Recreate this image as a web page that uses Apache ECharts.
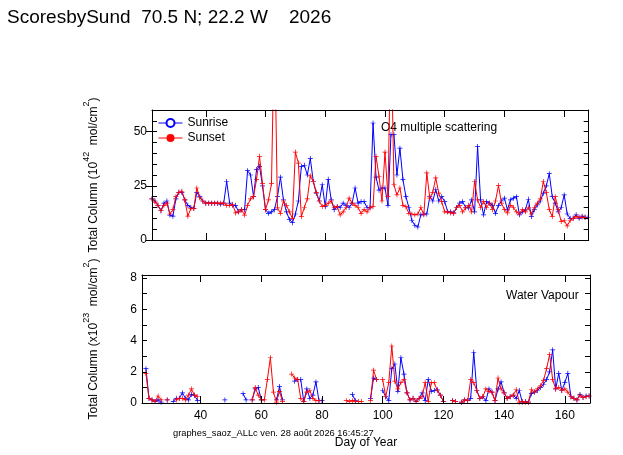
<!DOCTYPE html>
<html><head><meta charset="utf-8">
<script src="https://cdn.jsdelivr.net/npm/echarts@6/dist/echarts.min.js"></script>
<style>html,body{margin:0;padding:0;background:#fff}#c{width:623px;height:455px}</style>
</head><body><div id="c"></div>
<script>
const days = [21,22,23,24,25,26,27,28,29,30,31,32,33,34,35,36,37,38,39,40,
41,42,43,44,45,46,47,48,49,50,51,52,53,54,55,56,57,58,59,60,
61,62,63,64,65,66,67,68,69,70,71,72,73,74,75,76,77,78,79,80,
81,82,83,84,85,86,87,88,89,90,91,92,93,94,95,96,97,98,99,100,
101,102,103,104,105,106,107,108,109,110,111,112,113,114,115,116,117,118,119,120,
121,122,123,124,125,126,127,128,129,130,131,132,133,134,135,136,137,138,139,140,
141,142,143,144,145,146,147,148,149,150,151,152,153,154,155,156,157,158,159,160,
161,162,163,164,165,166,167,168];

// O4 multiple scattering (10^42 mol/cm2)
const o4Sunrise = [null,19,18,16,13.5,17,18,11.5,11,19,22,22,18.5,16,15,14.5,22,20,18,17,
17,17,17,17,16.5,17,27,17,16,16,13,14,14,32,30,20,32.5,34,25,14,
12.3,13,14,20,29,18.5,13,9.5,8,12,18,34,34.5,30,37.6,27,21.6,18,25.5,15.4,
28,18.5,14,15.4,15,17,16,15,17,24,17,17.7,17.7,15,14.8,54,29,23,24,24,
16,48.6,48.6,30,42.4,28,20,15,9,6.8,6,11.6,12,12,20,18,23.2,18,20,17.7,
13,13,12.5,15,17,17.7,15,14.8,18.5,13,43.2,18.5,11.6,17.7,17,16,12.3,16,18,19.3,
13.9,18.5,19.3,20,11.6,13,13.9,18.8,10.8,14,16.2,18,21.6,25,30.6,20,17,13,15,20.8,
12,10,10,11.6,10,11,10.5,10.5];
const o4Sunset = [null,19,17.5,16,13.5,16,17,12,14,20,22,22.5,18.5,11,14.5,14.5,24,19.5,18,17,
17,17,17,17,17,17,16,16,16.5,12.5,13,14,11.5,16,19,20,28,38.6,26,14,
18.5,26,100,14.8,12.3,18,16,13,10,40.6,35.5,10.8,15,19,29.6,27,22,18,15.5,16,
17,18,15,15.4,11.6,13,15,19.3,17,16,15,12.3,14,13,15,15.4,38.6,29.3,18,40.6,
20,100,25.5,20.8,24,16,15.4,12.3,12,11.6,12,15,11.6,31,19.3,22,28.7,21.6,17.7,13,
13,12.5,12.3,15,16,13,14.8,16,13,27,18.5,15,17.7,15,17,14,18,25.2,17,14,
12.5,16,15,13,12,14,13,15,12,15,17,19,27,22,14,10.8,20,14,8.5,9,
6.5,9,10,10.8,10.5,10.5,10.5];

// Water vapour (x10^23 mol/cm2)
const wvSunrise = [null,2.2,0.3,0.2,0.1,0.2,0.05,null,0.2,null,0.1,0.3,0.3,0.65,0.3,0.2,0.55,0.5,0.15,null,
null,null,null,null,null,null,null,0.2,null,null,null,null,null,0.6,0.2,null,0.2,0.9,1.0,0.2,
null,null,null,null,0.2,1.05,0.2,null,null,null,1.4,1.5,1.5,0.1,0.9,0.3,0.5,1.35,0.15,0.15,
null,null,null,null,null,null,null,null,null,0.55,0.15,null,null,null,null,0.3,1.6,1.5,null,0.8,
0.4,0.15,2.2,2.5,0.75,2.9,1.85,0.65,0.2,0.3,0.1,0.3,0.65,0.15,1.5,0.75,0.8,0.85,0.5,0.1,
null,null,0.15,0.1,null,0.05,0.2,0.15,0.3,3.25,0.8,0.3,0.4,0.15,0.9,0.7,0.15,0.9,1.35,0.65,
0.3,0.4,0.5,0.3,0.8,0.05,0.1,0.05,0.6,0.7,0.8,1.0,1.2,1.5,2.0,3.4,0.9,1.9,0.8,1.3,
1.9,0.4,0.3,0.2,0.55,0.35,0.45,0.45];
const wvSunset = [null,1.9,0.3,0.2,0.1,0.45,0.2,null,0.2,null,null,0.2,0.3,0.3,0.2,0.5,0.9,0.5,0.4,null,
null,null,null,null,null,null,null,null,null,null,null,null,null,null,null,null,0.2,1.0,0.5,0.2,
0.2,1.5,2.9,0.7,0.05,0.75,0.1,null,null,1.85,1.6,1.5,0.3,0.1,0.7,0.8,0.3,0.15,0.15,null,
null,null,null,null,null,null,null,0.15,0.1,0.15,0.1,0.1,0.1,null,null,0.15,2.1,1.5,null,1.5,
0.4,1.3,3.65,1.4,0.9,1.3,1.5,0.65,0.2,0.3,0.1,0.3,0.4,1.3,0.1,1.3,1.3,0.8,0.5,0.1,
null,null,0.15,0.1,null,0.05,0.2,0.15,1.5,1.3,0.8,0.3,0.4,0.9,0.75,0.7,0.15,1.6,0.9,0.65,
0.3,0.4,0.5,0.85,0.05,0.1,0.05,0.05,0.85,0.7,0.9,1.1,1.45,2.2,3.1,1.5,0.9,1.0,0.8,0.9,
0.7,0.4,0.3,0.2,0.5,0.35,0.4,0.45];

const xTicks = [40,60,80,100,120,140,160];
const o4Labels = [0,25,50];
const o4Minor = [0,5,10,15,20,25,30,35,40,45,50,55,60];
const wvLabels = [0,2,4,6,8];
const wvMinor = [0,1,2,3,4,5,6,7,8];

const F = '"Liberation Sans", Arial, sans-serif';
const BLUE = '#0000ff', RED = '#ff0000';
const cross = 'path://M-0.14,-1H0.14V-0.14H1V0.14H0.14V1H-0.14V0.14H-1V-0.14H-0.14Z';
function pairs(v){ return days.map((d,i)=>[d, v[i]]); }

const chart = echarts.init(document.getElementById('c'));

function xAx(grid, pos, min, max, labels){
  return {type:'value', gridIndex:grid, position:pos, min:min, max:max, z:5,
    axisLine:{show:true, onZero:false, lineStyle:{color:'#000', width:1}}, splitLine:{show:false},
    axisTick:{show:true, inside:true, length:7, customValues:xTicks, lineStyle:{color:'#000', width:1}},
    axisLabel:{show:labels, customValues:xTicks, color:'#000', fontFamily:F, fontSize:12, margin:7}};
}
function yAx(grid, pos, max, ticks, inside, len, labels, line, extra){
  return Object.assign({type:'value', gridIndex:grid, position:pos, min:0, max:max, z:5,
    axisLine:{show:line, onZero:false, lineStyle:{color:'#000', width:1}}, splitLine:{show:false},
    axisTick:{show:true, inside:inside, length:len, customValues:ticks, lineStyle:{color:'#000', width:1}},
    axisLabel:labels ? {customValues:labels, color:'#000', fontFamily:F, fontSize:12, margin:5} : {show:false}}, extra || {});
}
const nameRich = {
  a:{fontFamily:F, fontSize:12, color:'#000', lineHeight:18, verticalAlign:'bottom'},
  s:{fontFamily:F, fontSize:9, color:'#000', lineHeight:9, verticalAlign:'top'}
};

const lineSeries = (name, v, color, xi, yi) => ({
  name:name, type:'line', xAxisIndex:xi, yAxisIndex:yi, data:pairs(v),
  symbol:cross, symbolSize:5, showSymbol:true, connectNulls:false, clip:true,
  lineStyle:{color:color, width:1}, itemStyle:{color:color}, emphasis:{disabled:true},
  animation:false, z:color===RED?3:2
});

chart.setOption({
  animation:false,
  backgroundColor:'#fff',
  grid:[
    {left:152, top:110, width:436.7, height:130},
    {left:142, top:275, width:448, height:128}
  ],
  xAxis:[
    xAx(0,'bottom',22,168.2,false),
    xAx(0,'top',22,168.2,false),
    Object.assign(xAx(1,'bottom',20.7,168.3,true), {name:'Day of Year', nameLocation:'middle', nameGap:34,
      nameTextStyle:{fontFamily:F, fontSize:12, color:'#000'}}),
    xAx(1,'top',20.7,168.3,false)
  ],
  yAxis:[
    yAx(0,'left',60,o4Minor,true,5,o4Labels,true,{name:'{a|Total Column (10}{s|42}{a|  mol/cm}{s|2}{a|)}',
      nameLocation:'middle', nameRotate:90, nameGap:52, nameTextStyle:{rich:nameRich}}),
    yAx(0,'left',60,o4Labels,false,6,null,false),
    yAx(0,'right',60,o4Minor,true,5,null,true),
    yAx(1,'left',8.2,wvMinor,true,5,wvLabels,true,{name:'{a|Total Column (x10}{s|23}{a|  mol/cm}{s|2}{a|)}',
      nameLocation:'middle', nameRotate:90, nameGap:42, nameTextStyle:{rich:nameRich}}),
    yAx(1,'right',8.2,wvMinor,true,5,null,true)
  ],
  legend:{
    left:158, top:115.5, orient:'vertical', itemWidth:24, itemHeight:10, itemGap:0, padding:0,
    lineStyle:{width:1}, textStyle:{fontFamily:F, fontSize:12, color:'#000', lineHeight:15},
    data:['Sunrise','Sunset'], selectedMode:false
  },
  series:[
    {name:'Sunrise', type:'line', xAxisIndex:0, yAxisIndex:0, data:[], symbol:'emptyCircle',
      lineStyle:{color:BLUE, width:1}, itemStyle:{color:BLUE}},
    {name:'Sunset', type:'line', xAxisIndex:0, yAxisIndex:0, data:[], symbol:'circle',
      lineStyle:{color:RED, width:1}, itemStyle:{color:RED}},
    lineSeries('Sunrise O4', o4Sunrise, BLUE, 0, 0),
    lineSeries('Sunset O4', o4Sunset, RED, 0, 0),
    lineSeries('Sunrise WV', wvSunrise, BLUE, 2, 3),
    lineSeries('Sunset WV', wvSunset, RED, 2, 3)
  ],
  graphic:[
    {type:'text', left:7, top:8, style:{text:'ScoresbySund  70.5 N; 22.2 W    2026', font:'19px "Liberation Sans", Arial, sans-serif', fill:'#000'}},
    {type:'text', left:381, top:122, style:{text:'O4 multiple scattering', font:'12px "Liberation Sans", Arial, sans-serif', fill:'#000'}},
    {type:'text', left:506, top:290, style:{text:'Water Vapour', font:'12px "Liberation Sans", Arial, sans-serif', fill:'#000'}},
    {type:'text', left:173, top:429, style:{text:'graphes_saoz_ALLc ven. 28 août 2026 16:45:27', font:'9.3px "Liberation Sans", Arial, sans-serif', fill:'#000'}}
  ]
});
</script></body></html>
